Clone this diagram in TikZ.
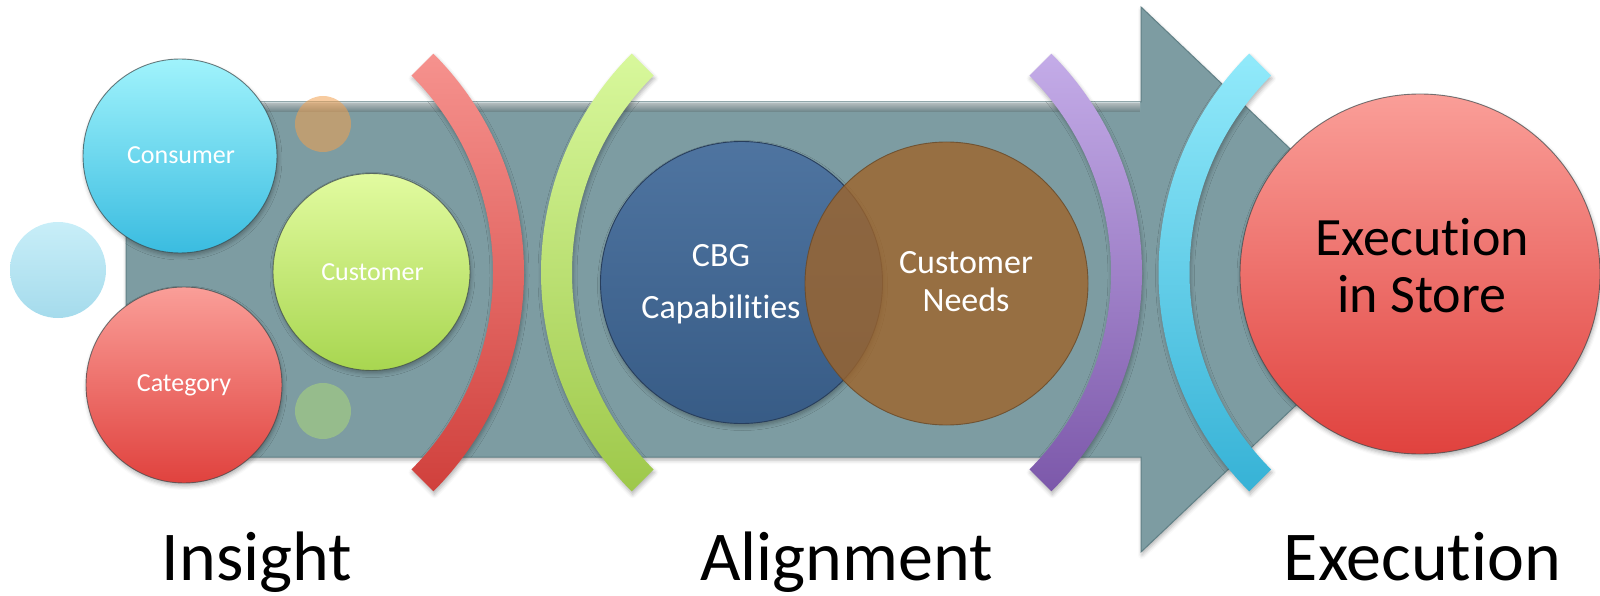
\documentclass[tikz,border=0pt]{standalone}
\usepackage{fontspec}
\setmainfont{Carlito}[Ligatures={NoCommon,NoContextual,NoRequired},Contextuals=NoAlternate]
\usetikzlibrary{shadows.blur}

\definecolor{arrowfill}{RGB}{125,156,162}
\definecolor{arrowedge}{RGB}{96,128,134}
\definecolor{rim}{RGB}{60,72,74}
\definecolor{cyanTop}{RGB}{160,243,252}
\definecolor{cyanBot}{RGB}{58,188,224}
\definecolor{limeTop}{RGB}{226,251,160}
\definecolor{limeBot}{RGB}{168,214,80}
\definecolor{roseTop}{RGB}{250,158,152}
\definecolor{roseBot}{RGB}{224,66,62}
\definecolor{paleTop}{RGB}{200,238,248}
\definecolor{paleBot}{RGB}{165,219,236}
\definecolor{dotOrange}{RGB}{240,160,80}
\definecolor{dotGreen}{RGB}{172,216,122}
\definecolor{navy}{RGB}{63,104,152}
\definecolor{navyRim}{RGB}{40,62,92}
\definecolor{brown}{RGB}{158,100,42}
\definecolor{brownRim}{RGB}{105,72,38}
\definecolor{bandRedTop}{RGB}{246,146,142}
\definecolor{bandRedBot}{RGB}{208,64,60}
\definecolor{bandGreenTop}{RGB}{216,248,156}
\definecolor{bandGreenBot}{RGB}{158,200,74}
\definecolor{bandPurpleTop}{RGB}{196,172,232}
\definecolor{bandPurpleBot}{RGB}{124,88,170}
\definecolor{bandCyanTop}{RGB}{146,234,251}
\definecolor{bandCyanBot}{RGB}{54,178,214}

% curved band of constant width: centre, start angle, end angle, style
\newcommand{\curvedband}[4]{%
  \path[#4] #1 ++(#2:309.5) arc[start angle=#2, end angle=#3, radius=309.5]
    -- ++(#3+180:31) arc[start angle=#3, end angle=#2, radius=278.5] -- cycle;}

\begin{document}
\begin{tikzpicture}[x=1pt, y=-1pt,
  softshadow/.style={blur shadow={shadow xshift=1pt, shadow yshift=-3pt,
      shadow blur radius=4pt, shadow opacity=30}},
  bubble/.style={circle, inner sep=0pt, draw=rim, draw opacity=0.7,
      line width=0.9pt, softshadow},
  dot/.style={circle, inner sep=0pt},
  small/.style={anchor=base, inner sep=0pt, text=white,
      font=\fontsize{26}{30}\selectfont},
  middle/.style={anchor=base, inner sep=0pt, text=white,
      font=\fontsize{34}{40}\selectfont},
  big/.style={anchor=base, inner sep=0pt, text=black,
      font=\fontsize{54}{60}\selectfont},
  stage/.style={anchor=base, inner sep=0pt, text=black,
      font=\fontsize{70}{84}\selectfont},
  band/.style={softshadow}]

\useasboundingbox (0,0) rectangle (1600,596);

% block arrow behind everything
\path[fill=arrowfill, draw=arrowedge, line width=1pt, softshadow]
  (126,102) -- (1141,102) -- (1141,7) -- (1428,280) -- (1141,552)
  -- (1141,457) -- (126,457) -- cycle;
\fill[top color=white!70!arrowfill, bottom color=arrowfill, opacity=0.8]
  (127,103) rectangle (1140,112);

% small decorative dots
\node[dot, minimum size=96, top color=paleTop, bottom color=paleBot] (pale) at (58,270) {};
\node[dot, minimum size=56, fill=dotOrange, fill opacity=0.55] (orangeDot) at (323,124) {};
\node[dot, minimum size=56, fill=dotGreen, fill opacity=0.55] (greenDot) at (323,411) {};

% insight bubbles
\node[bubble, minimum size=194, top color=cyanTop, bottom color=cyanBot] (consumer) at (180,156) {};
\node[bubble, minimum size=197, top color=limeTop, bottom color=limeBot] (customer) at (371.5,272) {};
\node[bubble, minimum size=196, top color=roseTop, bottom color=roseBot] (category) at (184,385) {};
\node[small] (consumerText) at (181,163.3) {Consumer};
\node[small] (customerText) at (372.5,280) {Customer};
\node[small] (categoryText) at (184,391.7) {Category};

% alignment pair
\node[circle, inner sep=0pt, minimum size=282, top color=navy!92!white, bottom color=navy!88!black,
  draw=navyRim, line width=0.9pt, softshadow] (cbg) at (741.5,282.5) {};
\node[circle, inner sep=0pt, minimum size=283, fill=brown, fill opacity=0.8,
  draw=brownRim, draw opacity=0.8, line width=0.9pt] (needs) at (946.5,283.5) {};
\node[middle] (cbgA) at (721,266) {CBG};
\node[middle] (cbgB) at (721,318.5) {Capabilit\kern0pt ies};
\node[middle] (needsA) at (966,273.3) {Customer};
\node[middle] (needsB) at (966,311.7) {Needs};

% curved separators
\curvedband{(214.5,272.5)}{-45}{45}{band, top color=bandRedTop, bottom color=bandRedBot}
\curvedband{(850.5,272.5)}{225}{135}{band, top color=bandGreenTop, bottom color=bandGreenBot}
\curvedband{(832.5,272.5)}{-45}{45}{band, top color=bandPurpleTop, bottom color=bandPurpleBot}
\curvedband{(1468,272.5)}{225}{135}{band, top color=bandCyanTop, bottom color=bandCyanBot}

% execution bubble
\node[bubble, minimum size=360, top color=roseTop, bottom color=roseBot] (execution) at (1420,274) {};
\node[big] (execA) at (1422,255) {Execut\kern0pt ion};
\node[big] (execB) at (1422,312) {in Store};

% stage captions
\node[stage] (insight) at (257,580) {Insight};
\node[stage] (alignment) at (846.5,580) {Alignment};
\node[stage] (executionLabel) at (1422.5,580) {Execut\kern0pt ion};
\end{tikzpicture}
\end{document}
